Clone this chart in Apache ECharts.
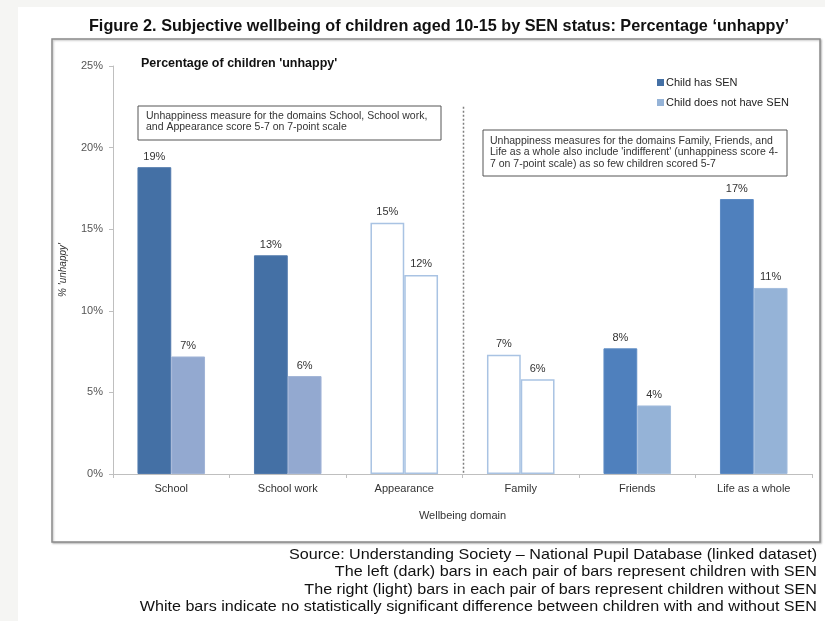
<!DOCTYPE html>
<html>
<head>
<meta charset="utf-8">
<script src="https://cdn.jsdelivr.net/npm/echarts@6/dist/echarts.min.js"></script>
<style>
html,body{margin:0;padding:0;background:#fff;}
#chart{width:825px;height:621px;}
</style>
</head>
<body>
<div id="chart"></div>
<script>
var categories = ['School', 'School work', 'Appearance', 'Family', 'Friends', 'Life as a whole'];
var senValues = [18.8, 13.4, 15.4, 7.3, 7.7, 16.85];
var nonSenValues = [7.2, 6.0, 12.2, 5.8, 4.2, 11.4];
var significant = [true, true, false, false, true, true];
var groupB = [false, false, false, true, true, true];
var yTicks = [0, 5, 10, 15, 20, 25];
var footerLines = [
  'Source: Understanding Society \u2013 National Pupil Database (linked dataset)',
  'The left (dark) bars in each pair of bars represent children with SEN',
  'The right (light) bars in each pair of bars represent children without SEN',
  'White bars indicate no statistically significant difference between children with and without SEN'
];

var FONT = 'Arial, "Liberation Sans", sans-serif';

function item(v, i, dark) {
  var fill, border;
  if (!significant[i]) { fill = '#ffffff'; border = '#a9c3e3'; }
  else if (dark) { fill = groupB[i] ? '#4f80bd' : '#4470a5'; border = groupB[i] ? '#5d8bc4' : '#5079ac'; }
  else { fill = groupB[i] ? '#95b3d7' : '#93a9d0'; border = groupB[i] ? '#a3bddd' : '#a0b3d6'; }
  return { value: v, itemStyle: { color: fill, borderColor: border, borderWidth: significant[i] ? 1 : 1.5 } };
}

var chart = echarts.init(document.getElementById('chart'));

var graphics = [
  { type: 'rect', shape: { x: 0, y: 0, width: 18, height: 621 }, style: { fill: '#f5f5f3' }, silent: true, z: -10 },
  { type: 'rect', shape: { x: 0, y: 0, width: 825, height: 7 }, style: { fill: '#f5f5f3' }, silent: true, z: -10 },
  { type: 'rect', shape: { x: 52, y: 39, width: 768, height: 503 },
    style: { fill: '#ffffff', stroke: '#8c8c8c', lineWidth: 1.5, shadowColor: 'rgba(0,0,0,0.25)', shadowBlur: 2, shadowOffsetX: 1, shadowOffsetY: 1 }, silent: true, z: -5 },
  { type: 'text', x: 439, y: 18, scaleX: 0.955, originX: 0, originY: 0,
    style: { text: 'Figure 2. Subjective wellbeing of children aged 10-15 by SEN status: Percentage \u2018unhappy\u2019',
      font: 'bold 17px ' + FONT, fill: '#111', textAlign: 'center' } },
  { type: 'text', x: 141, y: 57,
    style: { text: "Percentage of children 'unhappy'", font: 'bold 12.5px ' + FONT, fill: '#111' } },
  { type: 'rect', shape: { x: 138, y: 106, width: 303, height: 34 },
    style: { fill: '#fff', stroke: '#555', lineWidth: 1 }, z: 10 },
  { type: 'text', x: 146, y: 110, z: 11,
    style: { text: 'Unhappiness measure for the domains School, School work,\nand Appearance score 5-7 on 7-point scale',
      font: '10.5px ' + FONT, fill: '#333', lineHeight: 11.5 } },
  { type: 'rect', shape: { x: 483, y: 130, width: 304, height: 46 },
    style: { fill: '#fff', stroke: '#555', lineWidth: 1 }, z: 10 },
  { type: 'text', x: 490, y: 135, z: 11,
    style: { text: "Unhappiness measures for the domains Family, Friends, and\nLife as a whole also include 'indifferent' (unhappiness score 4-\n7 on 7-point scale) as so few children scored 5-7",
      font: '10.5px ' + FONT, fill: '#333', lineHeight: 11.5 } }
];
footerLines.forEach(function (t, k) {
  graphics.push({ type: 'text', x: 817, y: 547 + k * 17.5, scaleX: 1.075, originX: 0, originY: 0,
    style: { text: t, font: '15px ' + FONT, fill: '#111', textAlign: 'right' } });
});

chart.setOption({
  animation: false,
  backgroundColor: '#ffffff',
  textStyle: { fontFamily: FONT },
  grid: { left: 113, right: 13, top: 66, bottom: 147 },
  legend: {
    orient: 'vertical', left: 652, top: 72, itemWidth: 7, itemHeight: 7, itemGap: 9,
    icon: 'rect', textStyle: { fontSize: 11, color: '#222', padding: [0, 0, 0, -3] },
    data: ['Child has SEN', 'Child does not have SEN']
  },
  xAxis: {
    type: 'category', data: categories,
    name: 'Wellbeing domain', nameLocation: 'middle', nameGap: 36,
    nameTextStyle: { fontSize: 11, color: '#333' },
    axisLine: { lineStyle: { color: '#bfbfbf', width: 1 } },
    axisTick: { show: true, length: 4, lineStyle: { color: '#bfbfbf' } },
    axisLabel: { fontSize: 11, color: '#333', margin: 9 }
  },
  yAxis: {
    type: 'value', min: yTicks[0], max: yTicks[yTicks.length - 1], interval: 5,
    name: "% 'unhappy'", nameLocation: 'middle', nameGap: 45, nameRotate: 90,
    nameTextStyle: { fontSize: 10, color: '#333', fontStyle: 'italic' },
    axisLine: { show: true, lineStyle: { color: '#bfbfbf', width: 1 } },
    axisTick: { show: true, length: 4, lineStyle: { color: '#bfbfbf' } },
    splitLine: { show: false },
    axisLabel: { fontSize: 11, color: '#555', margin: 10, formatter: '{value}%' }
  },
  series: [
    {
      name: 'Child has SEN', type: 'bar', barGap: '0%', barCategoryGap: '42%',
      itemStyle: { color: '#4470a5' },
      data: senValues.map(function (v, i) { return item(v, i, true); }),
      label: { show: true, position: 'top', distance: 5, fontSize: 11, color: '#333',
        formatter: function (p) { return Math.round(p.value) + '%'; } }
    },
    {
      name: 'Child does not have SEN', type: 'bar',
      itemStyle: { color: '#95b3d7' },
      data: nonSenValues.map(function (v, i) { return item(v, i, false); }),
      label: { show: true, position: 'top', distance: 5, fontSize: 11, color: '#333',
        formatter: function (p) { return Math.round(p.value) + '%'; } }
    }
  ],
  graphic: graphics
});

var xa = chart.convertToPixel({ xAxisIndex: 0 }, categories[2]);
var xb = chart.convertToPixel({ xAxisIndex: 0 }, categories[3]);
var yTop = chart.convertToPixel({ yAxisIndex: 0 }, 22.5);
var yBot = chart.convertToPixel({ yAxisIndex: 0 }, 0);
var xm = Math.round((xa + xb) / 2) + 0.5;
graphics.push({ type: 'line', shape: { x1: xm, y1: yTop, x2: xm, y2: yBot },
  style: { stroke: '#7f7f7f', lineWidth: 1.5, lineDash: [2, 2] }, silent: true, z: 5 });
chart.setOption({ graphic: graphics }, { replaceMerge: ['graphic'] });
</script>
</body>
</html>
